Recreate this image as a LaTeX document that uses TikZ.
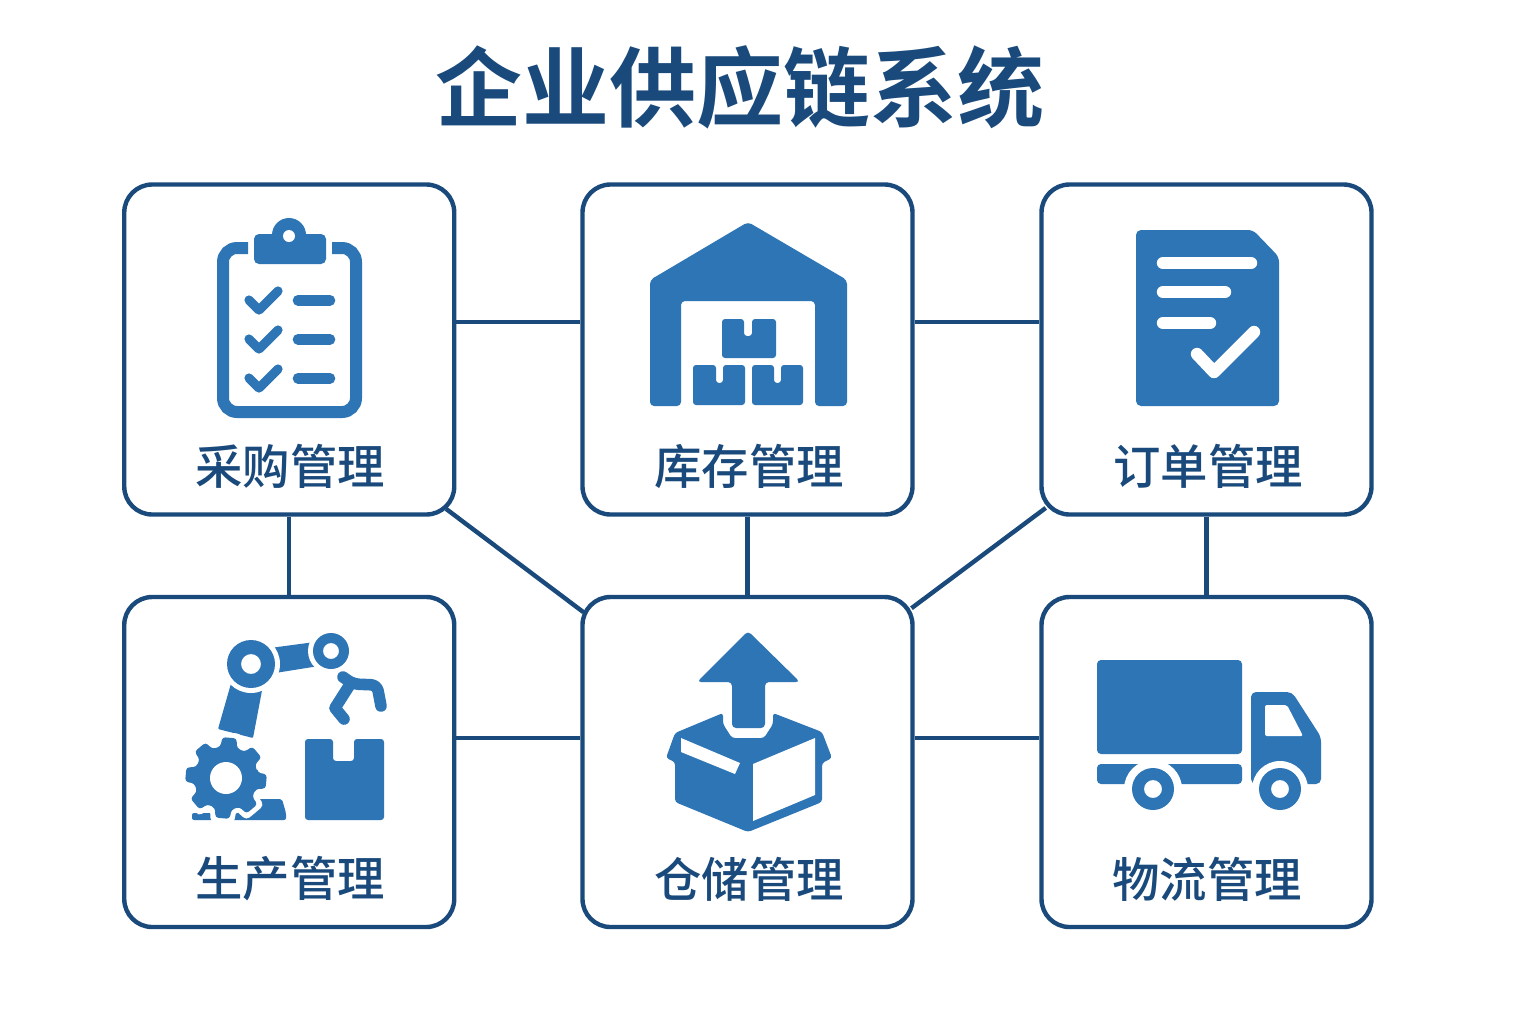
\documentclass[tikz,border=0pt]{standalone}
\usepackage{fontspec}
\newfontfamily\cjkreg{Noto Sans CJK SC Medium}
\newfontfamily\cjkbold{Noto Sans CJK SC Bold}
\definecolor{navy}{HTML}{1A4A7C}
\definecolor{iconblue}{HTML}{2E75B6}
\newcommand{\pkgbox}[7]{%
  \fill[iconblue,rounded corners=1.5pt] (#1,#2) -- (#5,#2) -- (#5,#7) -- (#6,#7) -- (#6,#2) -- (#3,#2) -- (#3,#4) -- (#1,#4) -- cycle;
}
\newcommand{\gearpath}{(-10:32) \foreach \a in {5,50,95,140,185,230,275,320}{ -- (\a-15:32) -- (\a-10:41) -- (\a+10:41) -- (\a+15:32) } -- cycle}
\tikzset{
  x=0.5pt,y=-0.5pt,
  card/.style={draw=navy,line width=2.2pt,fill=white,rounded corners=14pt,minimum width=165pt,minimum height=165pt,inner sep=0pt},
  link/.style={draw=navy,line width=2.2pt},
  cardlabel/.style={font=\cjkreg\fontsize{23.7}{26}\selectfont,text=navy,inner sep=0pt},
  tick/.style={draw=iconblue,line width=4.6pt,line cap=round,line join=round},
  wline/.style={draw=white,line width=6.2pt,line cap=round,line join=round},
}
\begin{document}
\begin{tikzpicture}
\useasboundingbox[fill=white] (0,0) rectangle (1536,1024);
\node[font=\cjkbold\fontsize{43.5}{48}\selectfont,text=navy,inner sep=0pt] (title) at (739.5,87) {企业供应链系统};
\node[card] (cg) at (289.25,349.5) {};
\node[card] (kc) at (747.5,349.5) {};
\node[card] (dd) at (1206.5,349.5) {};
\node[card] (sc) at (289.25,762) {};
\node[card] (cc) at (747.5,762) {};
\node[card] (wl) at (1206.5,762) {};
\node[cardlabel] (l1) at (290,466) {采购管理};
\node[cardlabel] (l2) at (749,466) {库存管理};
\node[cardlabel] (l3) at (1208,466) {订单管理};
\node[cardlabel] (l4) at (290,879) {生产管理};
\node[cardlabel] (l5) at (749,879) {仓储管理};
\node[cardlabel] (l6) at (1207,879) {物流管理};
% connectors
\draw[link] ([yshift=13.75pt]cg.east) -- ([yshift=13.75pt]kc.west);
\draw[link] ([yshift=13.75pt]kc.east) -- ([yshift=13.75pt]dd.west);
\draw[link] ([yshift=12pt]sc.east) -- ([yshift=12pt]cc.west);
\draw[link] ([yshift=12pt]cc.east) -- ([yshift=12pt]wl.west);
\draw[link] (cg.south) -- (sc.north);
\draw[link] (kc.south) -- (cc.north);
\draw[link] (dd.south) -- (wl.north);
\draw[link,shorten <=-6.5pt,shorten >=-2pt] (cg.south east) -- ([yshift=-7.5pt]cc.north west);
\draw[link,shorten <=-4pt,shorten >=-2pt] ([yshift=2pt]dd.south west) -- ([yshift=-5.5pt]cc.north east);
% clipboard
\draw[iconblue,line width=6pt,rounded corners=7pt] (248,248) -- (223,248) -- (223,412) -- (356,412) -- (356,248) -- (332,248);
\fill[iconblue,rounded corners=2.5pt] (254,234) rectangle (326,264);
\fill[iconblue] (289,235) circle (17);
\fill[white] (289,236) circle (6);
\foreach \d in {0,39,78}{
  \draw[tick] (249,300+\d) -- (259,310+\d) -- (278,291+\d);
  \draw[iconblue,line width=5.3pt,line cap=round] (298,300.3+\d) -- (330,300.3+\d);
}
% warehouse
\fill[iconblue,rounded corners=2pt] (650,406) -- (681,406) -- (681,301) -- (815,301) -- (815,406) -- (847,406) -- (847,280) -- (748,222) -- (650,280) -- cycle;
\pkgbox{722}{319}{776}{358}{744}{752}{336}
\pkgbox{693}{365}{745}{405}{716}{723}{383}
\pkgbox{752}{365}{803}{405}{774}{781}{383}
% document
\fill[iconblue,rounded corners=2.5pt] (1136,230) -- (1253,230) -- (1279,257) -- (1279,406) -- (1136,406) -- cycle;
\draw[wline] (1163,263) -- (1251,263);
\draw[wline] (1163,292) -- (1225,292);
\draw[wline] (1163,323) -- (1210,323);
\draw[wline] (1197,354) -- (1214,372) -- (1254,332);
% robot
\fill[iconblue,rounded corners=0.5pt] (270,648) -- (315,642) -- (319,666) -- (275,673) -- cycle;
\fill[iconblue,rounded corners=0.5pt] (232,680) -- (264,680) -- (253,738) -- (218,729) -- cycle;
\fill[white] (251,664) circle (29);
\fill[white] (331,651) circle (23);
\fill[iconblue,even odd rule] (251,664) circle (24) (251,664) circle (10);
\fill[iconblue,even odd rule] (331,651) circle (18) (331,651) circle (8);
\draw[iconblue,line width=5.8pt,line cap=round,line join=round,rounded corners=3pt] (343,677) -- (353,684) -- (377,685) -- (381,706);
\draw[iconblue,line width=5.8pt,line cap=round,line join=round] (349,686) -- (335,708) -- (344,719);
\pkgbox{305}{739}{384}{820}{333}{354}{761}
\fill[iconblue,rounded corners=1pt] (192,813) -- (226,813) -- (226,799) -- (282,799) -- (286,813) -- (286,820) -- (192,820) -- cycle;
\begin{scope}[shift={(226,778)}]
  \draw[white,line width=5pt,line join=round] \gearpath;
  \fill[iconblue,rounded corners=1.5pt] \gearpath;
  \fill[white] (0,0) circle (16);
\end{scope}
% open box
\fill[iconblue,rounded corners=1.5pt] (723,713) -- (675,733) -- (666,758) -- (675,762) -- (675,802) -- (748,832) -- (822,802) -- (822,763) -- (832,758) -- (822,732) -- (773,713) -- (773,724) -- (764,738) -- (732,738) -- (723,724) -- cycle;
\fill[white] (681,738) -- (740,763) -- (735,774) -- (681,752) -- cycle;
\fill[white] (815,738) -- (815,795) -- (753,821) -- (753,764) -- cycle;
\fill[iconblue,rounded corners=2pt] (748,631) -- (800,682) -- (765,682) -- (765,728) -- (732,728) -- (732,682) -- (697,682) -- cycle;
% truck
\fill[iconblue,rounded corners=2pt] (1097,660) rectangle (1242,754);
\fill[iconblue,rounded corners=2pt] (1097,764) rectangle (1242,784);
\fill[iconblue,rounded corners=2.5pt] (1251,784) -- (1251,692) -- (1292,692) -- (1321,737) -- (1321,784) -- cycle;
\fill[white,rounded corners=1pt] (1265,705) -- (1287,705) -- (1303,736) -- (1265,736) -- cycle;
\fill[white] (1153,789) circle (29);
\fill[white] (1280,789) circle (28);
\fill[iconblue,even odd rule] (1153,789) circle (21) (1153,789) circle (9);
\fill[iconblue,even odd rule] (1280,789) circle (21) (1280,789) circle (9);
\end{tikzpicture}
\end{document}
